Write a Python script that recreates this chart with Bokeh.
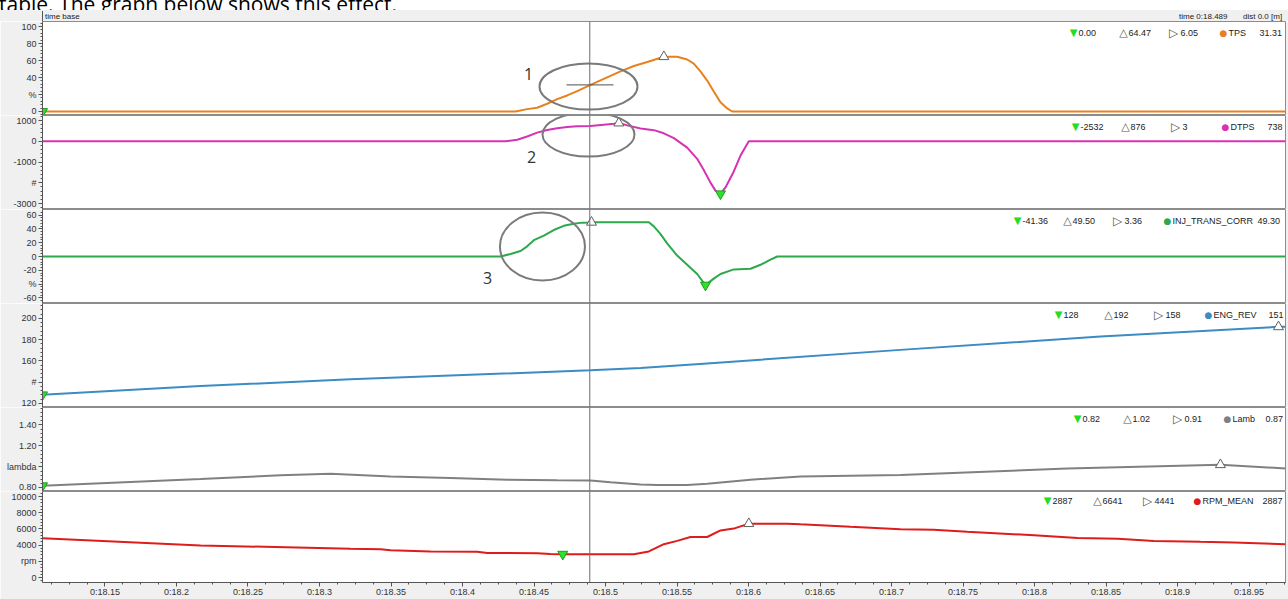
import numpy as np
from bokeh.plotting import figure
from bokeh.layouts import column
from bokeh.models import Range1d, FixedTicker, Span, Label, Div
from bokeh.embed import file_html
from bokeh.resources import INLINE

# ---------------- data ----------------
x_ticks = [18.15, 18.2, 18.25, 18.3, 18.35, 18.4, 18.45, 18.5, 18.55,
           18.6, 18.65, 18.7, 18.75, 18.8, 18.85, 18.9, 18.95]
x_tick_labels = ["0:18.15", "0:18.2", "0:18.25", "0:18.3", "0:18.35", "0:18.4",
                 "0:18.45", "0:18.5", "0:18.55", "0:18.6", "0:18.65", "0:18.7",
                 "0:18.75", "0:18.8", "0:18.85", "0:18.9", "0:18.95"]
t_start, t_end = 18.1063, 18.9755
cursor_t = 18.489

tps_t = [18.1063, 18.4371, 18.4452, 18.4522, 18.4592, 18.4662, 18.4732, 18.4802,
         18.4895, 18.4988, 18.5105, 18.5198, 18.5292, 18.5408, 18.5501, 18.5571,
         18.5617, 18.5664, 18.5711, 18.5757, 18.5804, 18.5851, 18.5886, 18.9755]
tps_v = [0.0, 0.0, 2.8, 4.4, 9.1, 14.5, 18.9, 24.0, 31.31, 38.3, 47.3, 53.6, 58.3,
         64.47, 64.47, 61.2, 56.4, 47.3, 36.4, 23.6, 10.9, 3.6, 0.0, 0.0]

dtps_t = [18.1063, 18.4301, 18.4383, 18.4452, 18.4522, 18.4592, 18.4662, 18.4732,
          18.4802, 18.4895, 18.4988, 18.5058, 18.5093, 18.5152, 18.5245, 18.5338,
          18.5408, 18.5478, 18.5571, 18.5641, 18.5687, 18.5734, 18.5769, 18.5804,
          18.5839, 18.5897, 18.5944, 18.6002, 18.9755]
dtps_v = [0, 0, 74, 230, 415, 540, 630, 690, 720, 738, 800, 845, 876, 765, 613, 535,
          382, 152, -308, -848, -1382, -1995, -2378, -2532, -2227, -1456, -691, 0, 0]

inj_t = [18.1063, 18.4266, 18.4336, 18.4406, 18.4452, 18.4499, 18.4569, 18.4638,
         18.4708, 18.4778, 18.4837, 18.4895, 18.4902, 18.5303, 18.5338, 18.5385,
         18.5431, 18.5501, 18.5571, 18.5641, 18.5699, 18.5757, 18.5804, 18.5897,
         18.6014, 18.6084, 18.6154, 18.6201, 18.9755]
inj_v = [0, 0, 3.6, 8.0, 14.7, 23.6, 30.3, 38.3, 44.4, 47.5, 49.0, 49.3, 49.5, 49.5,
         43.6, 32.4, 19.1, 1.3, -12.0, -25.3, -41.36, -32.0, -25.3, -18.7, -17.7,
         -12.0, -4.4, 0, 0]

eng_t = [18.1063, 18.2168, 18.3217, 18.4895, 18.5245, 18.5685, 18.7063, 18.8462,
         18.9706, 18.9755]
eng_v = [128, 136.2, 142.6, 151.0, 153.3, 157.3, 170.3, 182.9, 192, 192]

lamb_t = [18.1063, 18.2168, 18.2727, 18.3077, 18.3497, 18.3916, 18.4313, 18.4662,
          18.4895, 18.5035, 18.5245, 18.5362, 18.5571, 18.5711, 18.6014, 18.6364,
          18.7063, 18.8229, 18.9300, 18.9755]
lamb_v = [0.82, 0.884, 0.92, 0.934, 0.908, 0.893, 0.877, 0.872, 0.87, 0.854, 0.832,
          0.826, 0.826, 0.838, 0.877, 0.908, 0.923, 0.984, 1.02, 0.984]

rpm_t = [18.1063, 18.2168, 18.3217, 18.3427, 18.3497, 18.3776, 18.4103, 18.4173,
         18.4522, 18.4615, 18.4701, 18.4895, 18.5198, 18.5303, 18.5408, 18.5501,
         18.5594, 18.5711, 18.5804, 18.5897, 18.6002, 18.6061, 18.6271, 18.6364,
         18.6713, 18.7063, 18.7294, 18.7529, 18.7997, 18.8302, 18.8582, 18.8834,
         18.9161, 18.9394, 18.9755]
rpm_v = [4856, 3967, 3556, 3478, 3367, 3222, 3189, 3033, 3000, 2922, 2887, 2887,
         2887, 3222, 4111, 4522, 5000, 5000, 5811, 6033, 6641, 6641, 6641, 6556,
         6256, 5967, 5889, 5633, 5222, 4889, 4778, 4522, 4411, 4333, 4111]

names = ["TPS", "DTPS", "INJ_TRANS_CORR", "ENG_REV", "Lamb", "RPM_MEAN"]
leg_min = ["0.00", "-2532", "-41.36", "128", "0.82", "2887"]
leg_max = ["64.47", "876", "49.50", "192", "1.02", "6641"]
leg_mid = ["6.05", "3", "3.36", "158", "0.91", "4441"]
leg_cur = ["31.31", "738", "49.30", "151", "0.87", "2887"]

tps_ticks, tps_tick_labels = [0, 20, 40, 60, 80, 100], ["0", "%", "40", "60", "80", "100"]
dtps_ticks, dtps_tick_labels = [-3000, -2000, -1000, 0, 1000], ["-3000", "#", "-1000", "0", "1000"]
inj_ticks, inj_tick_labels = [-60, -40, -20, 0, 20, 40, 60], ["-60", "%", "-20", "0", "20", "40", "60"]
eng_ticks, eng_tick_labels = [120, 140, 160, 180, 200], ["120", "#", "160", "180", "200"]
lamb_ticks, lamb_tick_labels = [0.8, 1.0, 1.2, 1.4], ["0.80", "lambda", "1.20", "1.40"]
rpm_ticks, rpm_tick_labels = [0, 2000, 4000, 6000, 8000, 10000], ["0", "rpm", "4000", "6000", "8000", "10000"]

# ---------------- layout / style ----------------
FONT = "Liberation Sans"
SYM = "DejaVu Sans"
W = 1288
FRAME_L = 42

panels = [
    dict(t=tps_t, v=tps_v, color="#e8801e", h=94, yr=(-4.7, 105.9), ticks=tps_ticks, tl=tps_tick_labels, minor=4, dot=1223, cur_x=1259),
    dict(t=dtps_t, v=dtps_v, color="#d633b2", h=94, yr=(-3289, 1241), ticks=dtps_ticks, tl=dtps_tick_labels, minor=200, dot=1225, cur_x=1267),
    dict(t=inj_t, v=inj_v, color="#2ea84c", h=94, yr=(-68, 68), ticks=inj_ticks, tl=inj_tick_labels, minor=4, dot=1167, cur_x=1257),
    dict(t=eng_t, v=eng_v, color="#3b8cc4", h=104, yr=(116, 214), ticks=eng_ticks, tl=eng_tick_labels, minor=4, dot=1208, cur_x=1268),
    dict(t=lamb_t, v=lamb_v, color="#808080", h=84, yr=(0.765, 1.565), ticks=lamb_ticks, tl=lamb_tick_labels, minor=0.04, dot=1227, cur_x=1265),
    dict(t=rpm_t, v=rpm_v, color="#e01b1b", h=93, yr=(-600, 10600), ticks=rpm_ticks, tl=rpm_tick_labels, minor=400, dot=1197, cur_x=1262),
]

xr = Range1d(t_start, t_end)
figs = []


def add_text(p, x, y, txt, color, font, size, align="left"):
    p.add_layout(Label(x=x, y=y, x_units="screen", y_units="screen", text=txt,
                       text_color=color, text_font=font, text_font_size=size,
                       text_align=align, text_baseline="middle"))


for i, pc in enumerate(panels):
    bottom = i == len(panels) - 1
    p = figure(width=W, height=pc["h"] + (15 if bottom else 0), x_range=xr,
               y_range=Range1d(*pc["yr"]), output_backend="svg", toolbar_location=None,
               tools="", x_axis_location="below" if bottom else None,
               min_border_left=FRAME_L, min_border_right=3, min_border_top=0,
               min_border_bottom=0, border_fill_color="#f0f0f0",
               background_fill_color="white", outline_line_color="#8c8c8c",
               outline_line_width=1, margin=0)
    p.xgrid.visible = False
    p.ygrid.visible = False

    y0, y1 = pc["yr"]
    st = pc["minor"]
    minors = [float(m) for m in np.arange(np.ceil(y0 / st) * st, y1, st)]
    ya = p.yaxis[0]
    ya.ticker = FixedTicker(ticks=pc["ticks"], minor_ticks=minors)
    ya.major_label_overrides = dict(zip(pc["ticks"], pc["tl"]))
    ya.major_label_text_font = FONT
    ya.major_label_text_font_size = "9px"
    ya.major_label_text_color = "#333333"
    ya.major_label_standoff = 2
    ya.major_tick_in = 0
    ya.major_tick_out = 4
    ya.minor_tick_in = 0
    ya.minor_tick_out = 2
    ya.axis_line_color = "#555555"
    ya.major_tick_line_color = "#555555"
    ya.minor_tick_line_color = "#555555"

    if bottom:
        xa = p.xaxis[0]
        xa.ticker = FixedTicker(ticks=x_ticks,
                                minor_ticks=[float(m) for m in np.arange(18.1125, 18.976, 0.0125)])
        xa.major_label_overrides = dict(zip(x_ticks, x_tick_labels))
        xa.major_label_text_font = FONT
        xa.major_label_text_font_size = "9px"
        xa.major_label_text_color = "#333333"
        xa.major_label_standoff = 0
        xa.major_tick_in = 0
        xa.major_tick_out = 4
        xa.minor_tick_in = 0
        xa.minor_tick_out = 2
        xa.axis_line_color = "#555555"
        xa.major_tick_line_color = "#555555"
        xa.minor_tick_line_color = "#555555"

    # cursor
    p.add_layout(Span(location=cursor_t, dimension="height", line_color="#6e6e6e", line_width=1))

    # series
    p.line(pc["t"], pc["v"], line_color=pc["color"], line_width=2)
    tv = np.array(pc["t"])
    vv = np.array(pc["v"], dtype=float)
    imin, imax = int(np.argmin(vv)), int(np.argmax(vv))
    p.scatter([tv[imax]], [vv[imax]], marker="triangle", size=10, fill_color="white",
              line_color="#606060", line_width=1)
    p.scatter([tv[imin]], [vv[imin]], marker="inverted_triangle", size=10,
              fill_color="#2de02d", line_color="#18a018", line_width=1)

    # legend row
    fh = pc["h"]
    y = fh - 11
    d = pc["dot"] - FRAME_L
    add_text(p, d - 150, y, "\u25BC", "#22dd22", SYM, "10px", "center")
    add_text(p, d - 145, y, leg_min[i], "#222222", FONT, "9px")
    add_text(p, d - 100, y, "\u25B3", "#555555", SYM, "11px", "center")
    add_text(p, d - 95, y, leg_max[i], "#222222", FONT, "9px")
    add_text(p, d - 50, y, "\u25B7", "#555555", SYM, "12px", "center")
    add_text(p, d - 43, y, leg_mid[i], "#222222", FONT, "9px")
    add_text(p, d, y, "\u25CF", pc["color"], SYM, "9px", "center")
    add_text(p, d + 5, y, names[i], "#222222", FONT, "9px")
    add_text(p, pc["cur_x"] - FRAME_L, y, leg_cur[i], "#222222", FONT, "9px")
    figs.append(p)

# ---------------- hand-drawn annotations (ellipses + numbers) ----------------
ell_color = "#7a7a7a"
figs[0].ellipse(x=[18.4881], y=[29.4], width=98, height=46, width_units="screen",
                height_units="screen", fill_color=None, line_color=ell_color, line_width=2)
figs[1].ellipse(x=[18.4881], y=[325], width=92, height=44, width_units="screen",
                height_units="screen", fill_color=None, line_color=ell_color, line_width=2)
figs[2].ellipse(x=[18.4559], y=[14.5], width=85, height=68, width_units="screen",
                height_units="screen", fill_color=None, line_color=ell_color, line_width=2)
figs[0].segment(x0=[18.4727], y0=[31.31], x1=[18.5056], y1=[31.31], line_color="#505050", line_width=1)
for fi, (lx, ly, lt) in zip([0, 1, 2], [(18.4462, 44.7, "1"), (18.4483, -783, "2"), (18.4175, -31.8, "3")]):
    figs[fi].add_layout(Label(x=lx, y=ly, text=lt, text_font="Open Sans", text_font_size="16px",
                              text_color="#333333", text_align="center", text_baseline="middle"))

# ---------------- header strips ----------------
sentence = Div(
    text=('<div style="margin-top:-12px;margin-left:-1px;font-family:\'Open Sans\';'
          'font-size:21px;line-height:22px;color:#000;white-space:nowrap;">'
          'table. The graph below shows this effect.</div>'),
    width=W, height=10, margin=0,
    styles={"overflow": "hidden", "background-color": "#ffffff"})

header = Div(
    text=('<div style="position:relative;width:1288px;height:11px;font-family:\'Liberation Sans\';'
          'font-size:8px;line-height:10px;color:#222;">'
          '<span style="position:absolute;left:42px;top:0px;height:11px;border-left:1px solid #555;"></span>'
          '<span style="position:absolute;left:45px;top:1px;">time base</span>'
          '<span style="position:absolute;left:1179px;top:1px;">time 0:18.489</span>'
          '<span style="position:absolute;left:1243px;top:1px;">dist 0.0 [m]</span>'
          '</div>'),
    width=W, height=11, margin=0,
    styles={"overflow": "hidden", "background-color": "#f0f0f0"})

layout = column([sentence, header] + figs, spacing=0)

open("out.html", "w").write(file_html(layout, INLINE))
